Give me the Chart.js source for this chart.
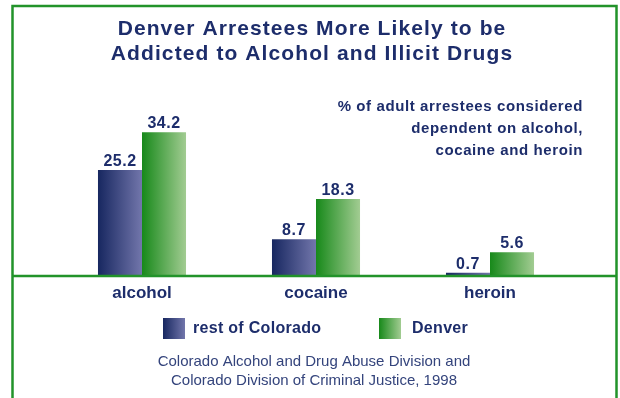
<!DOCTYPE html>
<html>
<head>
<meta charset="utf-8">
<script src="https://cdn.jsdelivr.net/npm/chart.js@4"></script>
<style>
  html, body { margin: 0; padding: 0; background: #fff; }
  canvas { display: block; }
</style>
</head>
<body>
<canvas id="myChart" width="620" height="398"></canvas>
<script>
// data
var categories = ["alcohol", "cocaine", "heroin"];
var restOfColorado = [25.2, 8.7, 0.7];
var denver = [34.2, 18.3, 5.6];
var seriesNames = ["rest of Colorado", "Denver"];

var titleLines = ["Denver Arrestees More Likely to be", "Addicted to Alcohol and Illicit Drugs"];
var noteLines = ["% of adult arrestees considered", "dependent on alcohol,", "cocaine and heroin"];
var sourceLines = ["Colorado Alcohol and Drug Abuse Division and", "Colorado Division of Criminal Justice, 1998"];

var NAVY = "#1d2d6b";
var GREEN = "#22932a";
var FONT = "'Liberation Sans', Arial, sans-serif";

function blueGrad(ctx, x0, x1) {
  var g = ctx.createLinearGradient(x0, 0, x1, 0);
  g.addColorStop(0, "#172760");
  g.addColorStop(1, "#7276ab");
  return g;
}
function greenGrad(ctx, x0, x1) {
  var g = ctx.createLinearGradient(x0, 0, x1, 0);
  g.addColorStop(0, "#17891a");
  g.addColorStop(1, "#a2cc92");
  return g;
}

var decor = {
  id: "decor",
  beforeDatasetsDraw: function(chart) {
    var ctx = chart.ctx;
    chart.data.datasets.forEach(function(ds, di) {
      chart.getDatasetMeta(di).data.forEach(function(bar) {
        var x0 = bar.x - bar.width / 2, x1 = bar.x + bar.width / 2;
        // options are shared between bars, so give each bar its own copy
        bar.options = Object.assign({}, bar.options, {
          backgroundColor: di === 0 ? blueGrad(ctx, x0, x1) : greenGrad(ctx, x0, x1)
        });
      });
    });
  },
  afterDatasetsDraw: function(chart) {
    var ctx = chart.ctx;
    var area = chart.chartArea;
    ctx.save();

    // value labels
    ctx.fillStyle = NAVY;
    ctx.font = "bold 16px " + FONT;
    ctx.letterSpacing = "0.5px";
    ctx.textAlign = "center";
    ctx.textBaseline = "alphabetic";
    chart.data.datasets.forEach(function(ds, di) {
      chart.getDatasetMeta(di).data.forEach(function(bar, i) {
        ctx.fillText(ds.data[i].toFixed(1), bar.x, bar.y - 4);
      });
    });

    // frame + baseline
    ctx.strokeStyle = GREEN;
    ctx.lineWidth = 2.5;
    ctx.beginPath();
    ctx.moveTo(12.5, 398);
    ctx.lineTo(12.5, 6);
    ctx.lineTo(616.5, 6);
    ctx.lineTo(616.5, 398);
    ctx.stroke();
    ctx.beginPath();
    ctx.moveTo(12.5, area.bottom + 0.5);
    ctx.lineTo(616.5, area.bottom + 0.5);
    ctx.stroke();

    // title
    ctx.fillStyle = NAVY;
    ctx.textAlign = "center";
    ctx.textBaseline = "middle";
    ctx.font = "bold 21px " + FONT;
    ctx.letterSpacing = "1.1px";
    titleLines.forEach(function(t, i) { ctx.fillText(t, 312, 29 + i * 25); });

    // note
    ctx.font = "bold 15px " + FONT;
    ctx.letterSpacing = "0.6px";
    ctx.textAlign = "right";
    noteLines.forEach(function(t, i) { ctx.fillText(t, 583, 107 + i * 22); });

    // legend
    var sw = [[163, 193, seriesNames[0], blueGrad], [379, 412, seriesNames[1], greenGrad]];
    ctx.letterSpacing = "0.3px";
    sw.forEach(function(s) {
      ctx.fillStyle = s[3](ctx, s[0], s[0] + 22);
      ctx.fillRect(s[0], 318, 22, 21);
      ctx.fillStyle = NAVY;
      ctx.textAlign = "left";
      ctx.font = "bold 16px " + FONT;
      ctx.fillText(s[2], s[1], 329);
    });

    // source
    ctx.fillStyle = "#34447c";
    ctx.textAlign = "center";
    ctx.font = "15px " + FONT;
    ctx.letterSpacing = "0px";
    sourceLines.forEach(function(t, i) { ctx.fillText(t, 314, 362 + i * 19); });

    ctx.restore();
  }
};

var ctx = document.getElementById("myChart").getContext("2d");
var myChart = new Chart(ctx, {
  type: "bar",
  data: {
    labels: categories,
    datasets: [{
      label: seriesNames[0],
      data: restOfColorado,
      backgroundColor: "#3a4585",
      borderWidth: 0
    }, {
      label: seriesNames[1],
      data: denver,
      backgroundColor: "#4fa84a",
      borderWidth: 0
    }]
  },
  options: {
    responsive: false,
    animation: false,
    layout: { padding: { left: 55, right: 43, top: 108, bottom: 86 } },
    datasets: { bar: { categoryPercentage: 0.506, barPercentage: 1.0 } },
    plugins: { legend: { display: false }, tooltip: { enabled: false } },
    scales: {
      y: { display: false, min: 0, max: 40 },
      x: {
        grid: { display: false, drawTicks: false },
        border: { display: false },
        ticks: { color: NAVY, font: { family: FONT, size: 17, weight: "bold" }, padding: 8 }
      }
    }
  },
  plugins: [decor]
});
</script>
</body>
</html>
